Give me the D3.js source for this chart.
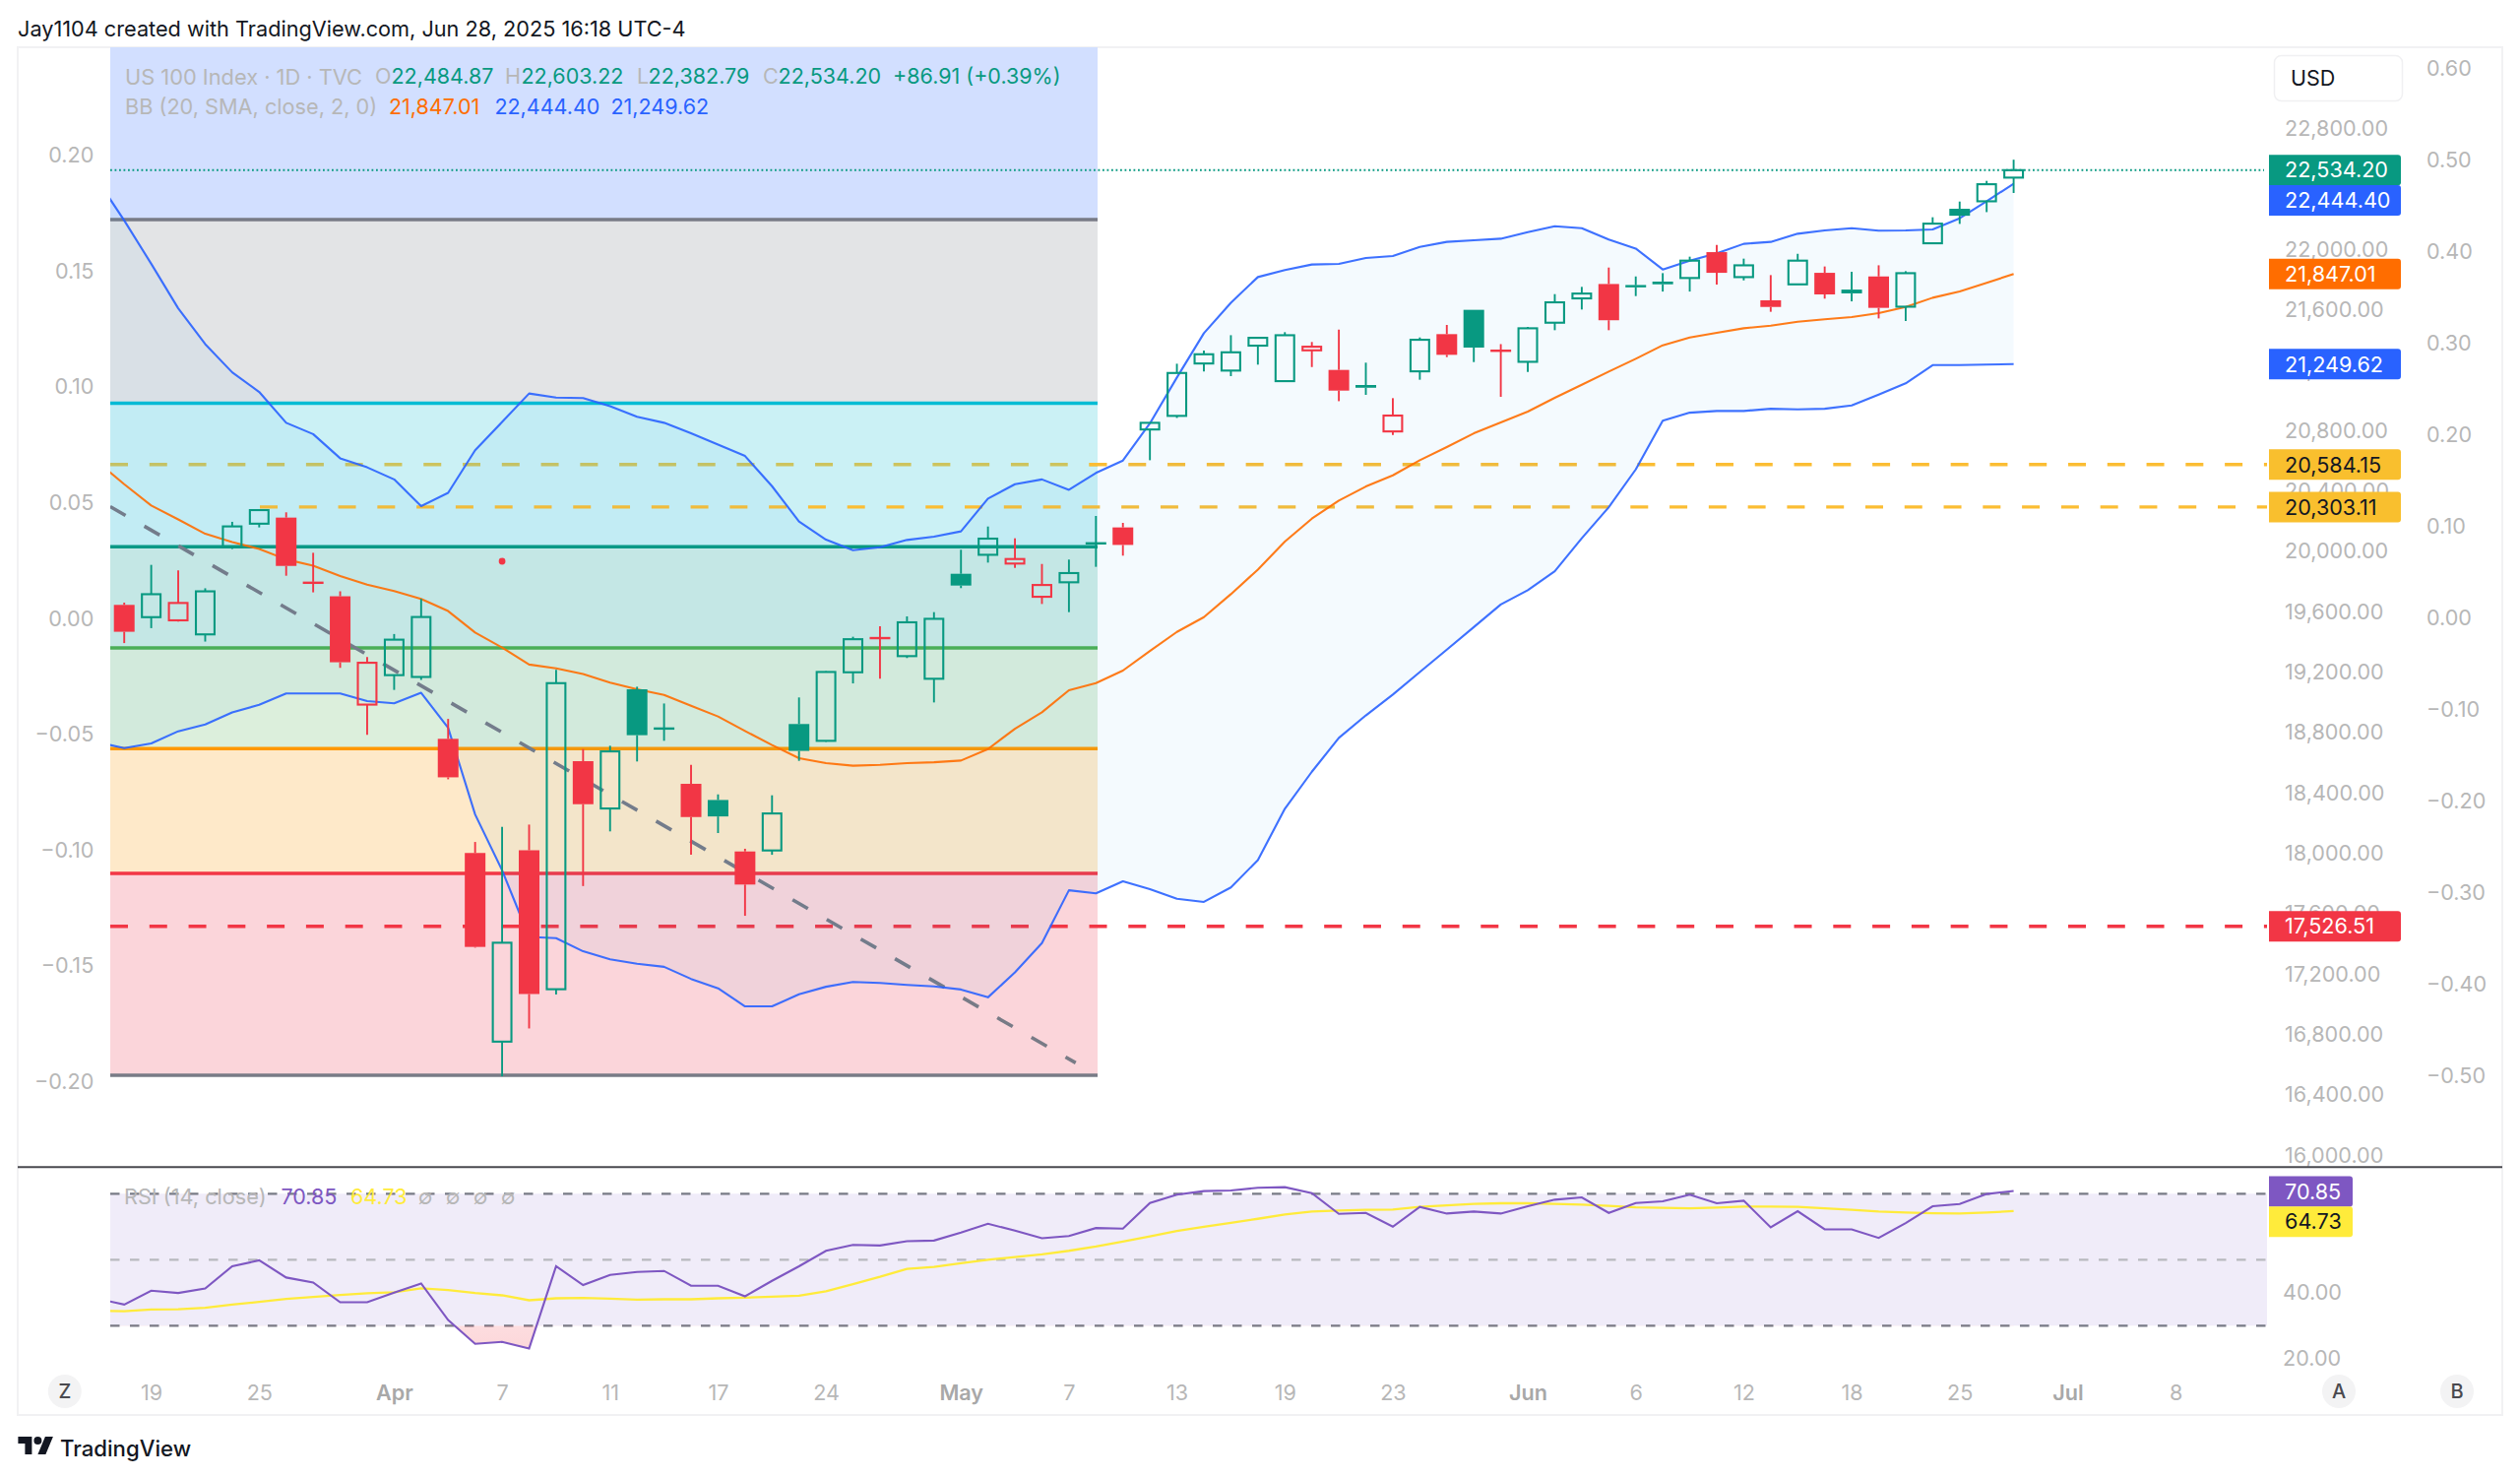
<!DOCTYPE html>
<html><head><meta charset="utf-8">
<script src="https://cdn.jsdelivr.net/npm/d3@7/dist/d3.min.js"></script>
<style>
html,body{margin:0;padding:0;background:#fff;overflow:hidden}
svg{display:block}
text{font-family:Inter,Roboto,sans-serif}
.domain{display:none}
</style></head><body><svg id="c" width="2560" height="1501"></svg>
<script>
// ---- candle data, index 0 = Mar 18 2025, one entry per trading day ----
const opens=[19655,19574,19553,19460,20042,20193,20233,19808,19712,18995,19190,19178,18768,18012,16763,18030,17110,18620,18307,19096,18840,18470,18363,18022,18029,18866,18755,19209,19438,19316,19166,19861,19987,19929,19709,19805,20065,20168,20817,20907,21254,21207,21372,21137,21341,21211,21111,20804,21202,21448,21609,21341,21265,21524,21685,21780,21772,21796,21820,21991,21826,21672,21778,21854,21743,21830,21630,22050,22278,22328,22484.87];
const highs=[19670,19920,19883,19765,20205,20283,20268,20000,19745,19310,19462,19695,18900,18085,18185,18200,19225,18700,18722,19113,19002,18596,18400,18040,18394,19042,19216,19444,19513,19579,19607,20020,20174,20096,19926,19955,20244,20198,20861,21252,21339,21441,21424,21461,21396,21478,21259,21024,21426,21509,21609,21382,21496,21713,21761,21889,21830,21852,21961,22039,21948,21839,21980,21896,21861,21904,21865,22222,22326,22463,22603.22];
const lows=[19402,19501,19545,19412,20025,20168,19848,19738,19238,18795,19092,19158,18500,17385,16533,16850,17075,17793,18155,18618,18755,18000,18144,17596,18000,18622,18748,19135,19166,19303,19009,19766,19935,19900,19661,19607,19907,19981,20613,20893,21200,21170,21246,21135,21230,21004,21046,20780,21146,21296,21263,21033,21198,21474,21611,21474,21700,21730,21730,21776,21804,21596,21778,21683,21665,21552,21535,22050,22178,22256,22382.79];
const closes=[19477,19726,19668,19745,20175,20283,19913,19795,19275,19272,19425,19575,18513,17390,17418,17078,19137,18335,18685,18792,18832,18250,18254,17803,18274,18688,19211,19428,19432,19540,19563,19783,20094,19959,19787,19866,20060,20052,20861,21191,21315,21328,21424,21441,21365,21074,21093,20909,21411,21311,21359,21335,21487,21659,21717,21540,21759,21778,21935,21854,21904,21628,21935,21711,21718,21622,21852,22180,22232,22441,22534.20];
// R filled red, r hollow red, G filled green, g hollow green
const kinds="RgrgggRRRrggRRgRgRgGGRGRgGggRggGgrrgGRggggggrRGrgRGRgggRGGgRgRgRGRggGgg";

// ---- Bollinger bands, first entry is the bar before index 0 ----
const bbUpper=[22470,22201,21914,21619,21382,21195,21065,20861,20786,20626,20566,20486,20309,20397,20679,20866,21055,21028,21025,20971,20901,20861,20791,20716,20641,20441,20207,20087,20017,20037,20085,20107,20142,20359,20454,20486,20417,20529,20611,20857,21161,21454,21656,21826,21872,21909,21913,21952,21965,22026,22059,22070,22080,22124,22163,22150,22074,22015,21876,21935,21983,22046,22059,22113,22135,22150,22133,22135,22141,22215,22328,22444.40];
const bbLower=[18746,18706,18738,18818,18863,18943,18993,19068,19068,19068,19018,19003,19073,18841,18267,17897,17456,17448,17361,17308,17278,17258,17178,17116,16996,16996,17076,17126,17158,17151,17138,17128,17108,17056,17221,17415,17765,17745,17825,17773,17709,17688,17784,17965,18305,18550,18774,18923,19061,19210,19359,19508,19658,19752,19878,20096,20302,20552,20874,20928,20939,20939,20954,20950,20954,20976,21048,21122,21243,21243,21246,21249.62];
const bbBasis=[20604,20454,20313,20221,20126,20071,20026,19956,19914,19846,19789,19746,19694,19614,19472,19372,19260,19235,19197,19140,19096,19059,18987,18916,18820,18727,18640,18607,18590,18596,18607,18613,18624,18700,18835,18944,19090,19137,19220,19349,19476,19574,19726,19889,20074,20226,20346,20439,20513,20613,20700,20791,20863,20935,21026,21113,21200,21285,21374,21426,21457,21487,21504,21530,21546,21561,21587,21628,21689,21730,21787,21847.01];

// ---- RSI pane, first entry is the bar before index 0 ----
const rsi=[38.2,36.4,40.6,39.9,41.3,48.0,49.8,44.6,43.1,37.1,37.1,40.0,42.8,31.7,24.5,25.1,23.1,48.0,42.3,45.4,46.3,46.6,42.1,42.1,38.9,43.6,48.0,52.7,54.5,54.3,55.6,55.8,58.2,60.9,58.8,56.5,57.2,59.6,59.4,67.2,69.7,70.8,71.0,71.8,72.0,70.2,63.9,64.2,60.0,66.0,64.0,64.6,64.0,66.2,68.2,68.9,64.2,67.2,67.7,69.7,67.1,67.9,59.8,64.7,59.2,59.2,56.6,61.1,66.2,66.9,69.9,70.85];
const rsiMa=[34.5,34.4,34.9,35.0,35.4,36.4,37.2,38.1,38.7,39.3,39.8,40.1,41.3,40.8,39.9,39.2,37.7,38.3,38.4,38.2,37.9,38.0,38.0,38.3,38.5,38.8,39.1,40.4,42.6,44.8,47.2,47.8,48.9,50.0,50.8,51.6,52.7,54.0,55.5,57.1,58.7,60.0,61.2,62.4,63.7,64.6,64.9,65.1,65.2,66.0,66.5,66.9,67.1,67.1,66.9,66.7,66.3,65.9,65.7,65.6,65.8,66.1,66.1,66.0,65.6,65.1,64.6,64.3,64.1,64.0,64.3,64.73];

// ---- Fibonacci levels and horizontal levels ----
const fibLevels=[23348,22207,20990,20040,19370,18703,17877,16540];
const fibFills=["#d2dfff","#e3e4e6","#cbf1f5","#cdebe5","#dcefdc","#fee9c9","#fbd5da"];
const fibLines=[null,"#787b86","#00bcd4","#089981","#4caf50","#ff9800","#f23645","#787b86"];
const trendIdx=[-0.52,35.25], trendPrice=[20306,16622];
const dotIdx=[14], dotPrice=[19944];

// ---- axis ticks ----
const priceTicks=d3.range(16000,22801,400);
const pctTicks=[0.6,0.5,0.4,0.3,0.2,0.1,0,-0.1,-0.2,-0.3,-0.4,-0.5];
const leftTicks=[0.2,0.15,0.1,0.05,0,-0.05,-0.1,-0.15,-0.2];
const rsiTicks=[40,20];
const xTickIdx=[1,5,10,14,18,22,26,31,35,39,43,47,52,56,60,64,68,72,76];
const xTickLab=["19","25","Apr","7","11","17","24","May","7","13","19","23","Jun","6","12","18","25","Jul","8"];
const monthLab=["Apr","May","Jun","Jul"];

// ---- scales ----
const x=d3.scaleLinear().domain([0,70]).range([126.2,2045.6]);
const y=d3.scaleLinear().domain([16000,22800]).range([1174.8,132]);
const yPct=d3.scaleLinear().domain([-0.5,0.6]).range([1091.6,69]);
const yLeft=d3.scaleLinear().domain([-0.2,0.2]).range([1097.4,156.6]);
const yR=d3.scaleLinear().domain([20,70]).range([1379.8,1212.3]);

const GREEN="#089981",RED="#f23645",BLUE="#2962ff",ORANGE="#ff6d00",AMBER="#fbc02d",GRAY="#787b86",TXT="#b7b7b7";
const PL=112,PR=1115,PANE=2303;
const svg=d3.select("#c");
const defs=svg.append("defs");
defs.append("clipPath").attr("id","main").append("rect").attr("x",PL).attr("y",48).attr("width",2542-PL).attr("height",1137);
defs.append("clipPath").attr("id","rp").append("rect").attr("x",PL).attr("y",1186).attr("width",PANE-PL).attr("height",240);
defs.append("clipPath").attr("id","os").append("rect").attr("x",PL).attr("y",yR(30)).attr("width",PANE-PL).attr("height",80);
const grad=defs.append("linearGradient").attr("id","osg").attr("x1",0).attr("x2",0).attr("y1",0).attr("y2",1);
grad.append("stop").attr("offset","0%").attr("stop-color","#f23645").attr("stop-opacity",0);
grad.append("stop").attr("offset","100%").attr("stop-color","#f23645").attr("stop-opacity",0.2);

function T(s,xx,yy,fill,size,opt){opt=opt||{};
 return svg.append("text").attr("x",xx).attr("y",yy).attr("dy","0.36em").attr("fill",fill).attr("font-size",size||21.5)
  .attr("font-weight",opt.w||400).attr("text-anchor",opt.a||"start").text(s);}

// frame
svg.append("rect").attr("x",18).attr("y",48).attr("width",2524).attr("height",1389).attr("fill","#fff").attr("stroke","#f1f1f3").attr("stroke-width",2);

// price axis labels sit underneath everything else
const axP=svg.append("g").attr("transform","translate(2321,-1.5)").call(d3.axisRight(y).tickValues(priceTicks).tickFormat(d3.format(",.2f")).tickSize(0).tickPadding(0));
const axPct=svg.append("g").attr("transform","translate(2465,1)").call(d3.axisRight(yPct).tickValues(pctTicks).tickFormat(d3.format(".2f")).tickSize(0).tickPadding(0));
const axL=svg.append("g").attr("transform","translate(95.3,1.2)").call(d3.axisLeft(yLeft).tickValues(leftTicks).tickFormat(d3.format(".2f")).tickSize(0).tickPadding(0));
[axP,axPct,axL].forEach(a=>a.selectAll("text").attr("fill",TXT).attr("font-size",21.6).attr("font-family","Inter"));

const g=svg.append("g").attr("clip-path","url(#main)");
// fib fills + lines
fibFills.forEach((c,k)=>{g.append("rect").attr("x",PL).attr("width",PR-PL).attr("y",y(fibLevels[k])).attr("height",y(fibLevels[k+1])-y(fibLevels[k])).attr("fill",c);});
fibLines.forEach((c,k)=>{if(c)g.append("line").attr("x1",PL).attr("x2",PR).attr("y1",y(fibLevels[k])).attr("y2",y(fibLevels[k])).attr("stroke",c).attr("stroke-width",3.6);});
// dashed levels
function dashed(p,x1,x2,c){g.append("line").attr("x1",x1).attr("x2",x2).attr("y1",y(p)).attr("y2",y(p)).attr("stroke",c).attr("stroke-width",3.4).attr("stroke-dasharray","18 21.78");}
dashed(20584.15,PL,PR,"#cdc45e");
dashed(20584.15,PL+25*39.78,PANE,"#fbbd33");
dashed(20303.11,264,PANE,"#fbbd33");
dashed(17526.51,PL,PANE,"#f23645");
// last price dotted
g.append("line").attr("x1",PL).attr("x2",2300).attr("y1",y(22534.20)).attr("y2",y(22534.20)).attr("stroke",GREEN).attr("stroke-width",1.8).attr("stroke-dasharray","1.8 2.7");
// trend line
g.append("line").attr("x1",x(trendIdx[0])).attr("y1",y(trendPrice[0])).attr("x2",x(trendIdx[1])).attr("y2",y(trendPrice[1])).attr("stroke",GRAY).attr("stroke-width",3.6).attr("stroke-dasharray","18 22");
// bollinger
const bi=d=>d-1;
const area=d3.area().x((d,i)=>x(bi(i))).y0(d=>y(d[0])).y1(d=>y(d[1]));
g.append("path").datum(d3.zip(bbUpper,bbLower)).attr("d",area).attr("fill","rgba(33,150,243,0.05)");
const line=d3.line().x((d,i)=>x(bi(i))).y(d=>y(d));
[[bbUpper,BLUE],[bbLower,BLUE],[bbBasis,ORANGE]].forEach(([a,c])=>g.append("path").datum(a).attr("d",line).attr("fill","none").attr("stroke",c).attr("stroke-width",2.1).attr("stroke-linejoin","round").attr("stroke-opacity",.9));
// dot
g.append("circle").attr("cx",x(dotIdx[0])).attr("cy",y(dotPrice[0])).attr("r",3.4).attr("fill",RED);
// candles
const bw=21,sw=2.1;
opens.forEach((o,i)=>{
 const k=kinds[i],c=(k==="R"||k==="r")?RED:GREEN,filled=(k==="R"||k==="G");
 const cx=x(i),top=y(Math.max(o,closes[i])),bot=y(Math.min(o,closes[i])),hi=y(highs[i]),lo=y(lows[i]);
 const w=g.append("g");
 w.append("line").attr("x1",cx).attr("x2",cx).attr("y1",hi).attr("y2",top).attr("stroke",c).attr("stroke-width",1.9);
 w.append("line").attr("x1",cx).attr("x2",cx).attr("y1",bot).attr("y2",lo).attr("stroke",c).attr("stroke-width",1.9);
 if(filled){const h=Math.max(bot-top,2.4);w.append("rect").attr("x",cx-bw/2).attr("width",bw).attr("y",(top+bot)/2-h/2).attr("height",h).attr("fill",c);}
 else{w.append("rect").attr("x",cx-bw/2+sw/2).attr("width",bw-sw).attr("y",top+sw/2-1).attr("height",Math.max(bot-top,1)).attr("fill","none").attr("stroke",c).attr("stroke-width",sw);}
});

// price labels
function tag(val,cy,bg,fg,txt,xx,wd){wd=wd||134;xx=xx||2305;
 svg.append("path").attr("d",`M${xx},${cy-15.5}h${wd-3}a3,3 0 0 1 3,3v25a3,3 0 0 1 -3,3h-${wd-3}z`).attr("fill",bg);
 T(txt,xx+16,cy,fg,21.6);}
const fmt=d3.format(",.2f");
tag(0,172.7,GREEN,"#fff",fmt(22534.20));
tag(0,203.4,BLUE,"#fff",fmt(22444.40));
tag(0,y(21847.01),ORANGE,"#fff",fmt(21847.01));
tag(0,y(21249.62),BLUE,"#fff",fmt(21249.62));
tag(0,y(20584.15),"#f9bf2e","#131722",fmt(20584.15));
tag(0,y(20303.11),"#f9bf2e","#131722",fmt(20303.11));
tag(0,y(17526.51),RED,"#fff",fmt(17526.51));
// USD box
svg.append("rect").attr("x",2310.5).attr("y",56.5).attr("width",130).attr("height",46).attr("rx",7).attr("fill","#fff").attr("stroke","#f0f0f2").attr("stroke-width",1.5);
T("USD",2327,79,"#131722",21.5);

// legend
const LG="#b7b7b7";
T("US 100 Index · 1D · TVC",127,77.7,LG,21.8);
[["O",381,LG],["22,484.87",397.5,GREEN],["H",513,LG],["22,603.22",529.5,GREEN],["L",647,LG],["22,382.79",658.6,GREEN],["C",775,LG],["22,534.20",790.6,GREEN],["+86.91 (+0.39%)",907,GREEN]].forEach(d=>T(d[0],d[1],77.7,d[2]));
T("BB (20, SMA, close, 2, 0)",127,108.3,LG,21.7);
T("21,847.01",395,108.3,ORANGE);T("22,444.40",502.4,108.3,BLUE);T("21,249.62",620.5,108.3,BLUE);
// header
T("Jay1104 created with TradingView.com, Jun 28, 2025 16:18 UTC-4",18,28.7,"#131722",21.7);

// separator
svg.append("line").attr("x1",18).attr("x2",2542).attr("y1",1185.3).attr("y2",1185.3).attr("stroke","#4a4a4f").attr("stroke-width",2);

// RSI pane
const r=svg.append("g");
r.append("rect").attr("x",PL).attr("width",PANE-PL).attr("y",yR(70)).attr("height",yR(30)-yR(70)).attr("fill","#f0ecf9");
[[70,GRAY],[50,"#b8b9be"],[30,GRAY]].forEach(([v,c])=>r.append("line").attr("x1",PL).attr("x2",PANE).attr("y1",yR(v)).attr("y2",yR(v)).attr("stroke",c).attr("stroke-width",2.2).attr("stroke-dasharray","9.5 10.5"));
const rl=d3.line().x((d,i)=>x(bi(i))).y(d=>yR(d));
const ra=d3.area().x((d,i)=>x(bi(i))).y0(yR(30)).y1(d=>yR(d));
r.append("path").datum(rsi).attr("d",ra).attr("fill","url(#osg)").attr("clip-path","url(#os)");
const rc=r.append("g").attr("clip-path","url(#rp)");
rc.append("path").datum(rsiMa).attr("d",rl).attr("fill","none").attr("stroke","#ffeb3b").attr("stroke-width",2.3);
rc.append("path").datum(rsi).attr("d",rl).attr("fill","none").attr("stroke","#7e57c2").attr("stroke-width",2.1);
T("RSI (14, close)",126,1215,LG,21.7);
T("70.85",285.5,1215,"#7e57c2",21.5);
T("64.73",356,1215,"#ffeb3b",21.5);
[432,460,488,516].forEach(v=>T("∅",v,1215,LG,21.5,{a:"middle"}));
const axR=svg.append("g").attr("transform","translate(2319,-0.2)").call(d3.axisRight(yR).tickValues(rsiTicks).tickFormat(d3.format(".2f")).tickSize(0).tickPadding(0));
axR.selectAll("text").attr("fill",TXT).attr("font-size",21.6).attr("font-family","Inter");
tag(0,1210,"#7e57c2","#fff","70.85",2305,85);
tag(0,1240.7,"#ffeb3b","#131722","64.73",2305,85);

// time axis
const axX=svg.append("g").attr("transform","translate(0,1414)").call(d3.axisBottom(x).tickValues(xTickIdx).tickFormat((d,i)=>xTickLab[i]).tickSize(0).tickPadding(0));
axX.selectAll("text").attr("dy","0.36em").attr("y",0).attr("font-size",21.6).attr("font-family","Inter").attr("fill",TXT);
axX.selectAll("text").filter(function(){return monthLab.includes(this.textContent)}).attr("font-weight",600).attr("fill","#a8a8a8");
[["Z",65.8],["A",2376],["B",2496]].forEach(([s,xx])=>{
 svg.append("circle").attr("cx",xx).attr("cy",1413).attr("r",17).attr("fill","#f3f3f4");
 T(s,xx,1413,"#4a4a4f",20,{a:"middle",w:500});
});
// logo
const lg=svg.append("g").attr("transform","translate(18.4,1455)").attr("fill","#131722");
lg.append("path").attr("d","M14 22H7V11H0V4h14v18zM28 22h-8l7.5-18h8L28 22z");
lg.append("circle").attr("cx",20).attr("cy",8).attr("r",4);
T("TradingView",61,1471,"#131722",22.2,{w:500});
</script></body></html>
